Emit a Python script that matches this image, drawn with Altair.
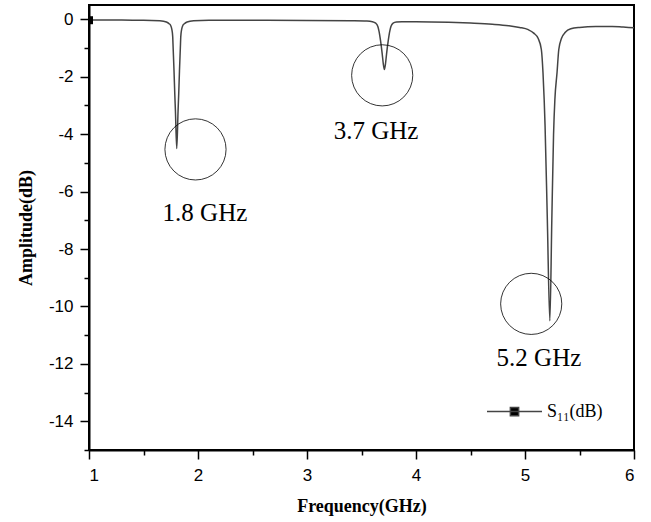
import altair as alt
import pandas as pd

# Measured reflection coefficient S11 of the tri-band antenna
freq_ghz = [
    1.0, 1.2, 1.4, 1.5, 1.65, 1.71, 1.735, 1.75, 1.76, 1.768, 1.772, 1.78,
    1.787, 1.793, 1.805, 1.817, 1.823, 1.83, 1.838, 1.842, 1.85, 1.86, 1.875,
    1.90, 1.96, 2.1, 2.5, 3.0, 3.4, 3.55, 3.60, 3.63, 3.65, 3.66, 3.675, 3.69,
    3.70, 3.71, 3.72, 3.73, 3.745, 3.76, 3.77, 3.79, 3.82, 3.87, 4.0, 4.3, 4.5,
    4.7, 4.85, 4.95, 5.03, 5.08, 5.12, 5.15, 5.165, 5.176, 5.184, 5.205, 5.228,
    5.246, 5.262, 5.274, 5.294, 5.31, 5.335, 5.37, 5.42, 5.5, 5.65, 5.8, 5.9, 6.0,
]
s11_db = [
    -0.02, -0.02, -0.03, -0.03, -0.05, -0.09, -0.15, -0.22, -0.35, -0.6, -1.0, -1.8,
    -2.6, -3.2, -4.5, -3.2, -2.6, -1.8, -1.0, -0.6, -0.35, -0.22, -0.15,
    -0.09, -0.05, -0.03, -0.03, -0.04, -0.05, -0.06, -0.08, -0.13, -0.25, -0.4, -0.75, -1.2,
    -1.55, -1.75, -1.55, -1.2, -0.75, -0.4, -0.25, -0.13, -0.09, -0.08, -0.08, -0.1, -0.13,
    -0.17, -0.22, -0.28, -0.36, -0.48, -0.66, -1.05, -1.85, -2.8, -3.7, -7.0, -10.5,
    -7.0, -4.0, -2.8, -1.85, -1.05, -0.66, -0.45, -0.33, -0.28, -0.25, -0.25, -0.27, -0.29,
]

# Symbol drawn on the first sample
marker_freq = [1.0]
marker_db = [-0.03]

# Circles highlighting the three resonances
ring_freq = [1.977, 3.69, 5.057]
ring_db = [-4.53, -1.95, -9.91]

# Resonance labels
note_text = ["1.8 GHz", "3.7 GHz", "5.2 GHz"]
note_freq = [2.064, 3.633, 5.128]
note_db = [-6.76, -3.9, -11.8]

# Axis tick positions
x_ticks = [1 + 0.5 * i for i in range(11)]
y_major = [0, -2, -4, -6, -8, -10, -12, -14]
y_minor = [-1, -3, -5, -7, -9, -11, -13, -15]

series_name = "S\u2081\u2081(dB)"

curve = pd.DataFrame({"f": freq_ghz, "a": s11_db, "series": series_name})
marker = pd.DataFrame({"f": marker_freq, "a": marker_db})
rings = pd.DataFrame({"f": ring_freq, "a": ring_db})
notes = pd.DataFrame({"f": note_freq, "a": note_db, "t": note_text})
minor = pd.DataFrame({"a": y_minor})

x_scale = alt.Scale(domain=[1, 6], nice=False, zero=False)
y_scale = alt.Scale(domain=[-15, 0.5], nice=False, zero=False)

x_axis = alt.Axis(
    values=x_ticks,
    labelExpr="datum.value % 1 === 0 ? format(datum.value, 'd') : ''",
    tickSize={"condition": {"test": "datum.value % 1 !== 0", "value": 5}, "value": 9},
    labelOverlap=False,
    title="Frequency(GHz)",
    titlePadding=14,
    labelPadding=8,
)
y_axis = alt.Axis(
    values=y_major,
    orient="left",
    labelExpr="datum.value < 0 ? '-' + abs(datum.value) : '' + datum.value",
    tickSize=9,
    labelOverlap=False,
    title="Amplitude(dB)",
    titlePadding=13,
    labelPadding=7,
)
y_minor_axis = alt.Axis(
    values=y_minor,
    orient="left",
    tickSize=5,
    labels=False,
    domain=False,
    title=None,
)

legend_symbol = "M-1,0H1M-0.15,-0.15H0.15V0.15H-0.15Z"

line = alt.Chart(curve).mark_line(strokeWidth=1.5, interpolate="monotone").encode(
    x=alt.X("f:Q", scale=x_scale, axis=x_axis),
    y=alt.Y("a:Q", scale=y_scale, axis=y_axis),
    color=alt.Color(
        "series:N",
        scale=alt.Scale(range=["#444444"]),
        legend=alt.Legend(
            title=None,
            orient="none",
            legendX=397,
            legendY=378,
            symbolType=legend_symbol,
            symbolSize=3025,
            symbolStrokeWidth=1.5,
            symbolFillColor="black",
            symbolStrokeColor="#333333",
            labelFont="Liberation Serif",
            labelFontSize=18,
            labelColor="black",
            labelOffset=4,
            padding=0,
        ),
    ),
)

minor_ticks = alt.Chart(minor).mark_point(opacity=0).encode(
    y=alt.Y("a:Q", scale=y_scale, axis=y_minor_axis)
)

square = alt.Chart(marker).mark_point(
    shape="square", size=64, filled=True, color="black", opacity=1, clip=True
).encode(
    x=alt.X("f:Q", scale=x_scale),
    y=alt.Y("a:Q", scale=y_scale, axis=None),
)

circles = alt.Chart(rings).mark_point(
    shape="circle", size=3739, filled=False, color="black", strokeWidth=0.8, opacity=1
).encode(
    x=alt.X("f:Q", scale=x_scale),
    y=alt.Y("a:Q", scale=y_scale, axis=None),
)

labels = alt.Chart(notes).mark_text(
    font="Liberation Serif", fontSize=25, color="black"
).encode(
    x=alt.X("f:Q", scale=x_scale),
    y=alt.Y("a:Q", scale=y_scale, axis=None),
    text="t:N",
)

chart = (
    alt.layer(line, minor_ticks, square, circles, labels)
    .resolve_axis(y="independent")
    .properties(
        width=545,
        height=445,
        padding={"left": 89, "top": 5, "right": 17, "bottom": 72},
        autosize=alt.AutoSizeParams(type="none"),
        background="white",
    )
    .configure_view(stroke="black", strokeWidth=2)
    .configure_axis(
        grid=False,
        domainColor="black",
        domainWidth=2,
        tickColor="black",
        tickWidth=1.5,
        labelFont="Liberation Sans",
        labelFontSize=17,
        labelColor="black",
        titleFont="Liberation Serif",
        titleFontSize=18,
        titleFontWeight="bold",
        titleColor="black",
    )
)

chart.save("out.html", embed_options={"renderer": "svg", "actions": False})
